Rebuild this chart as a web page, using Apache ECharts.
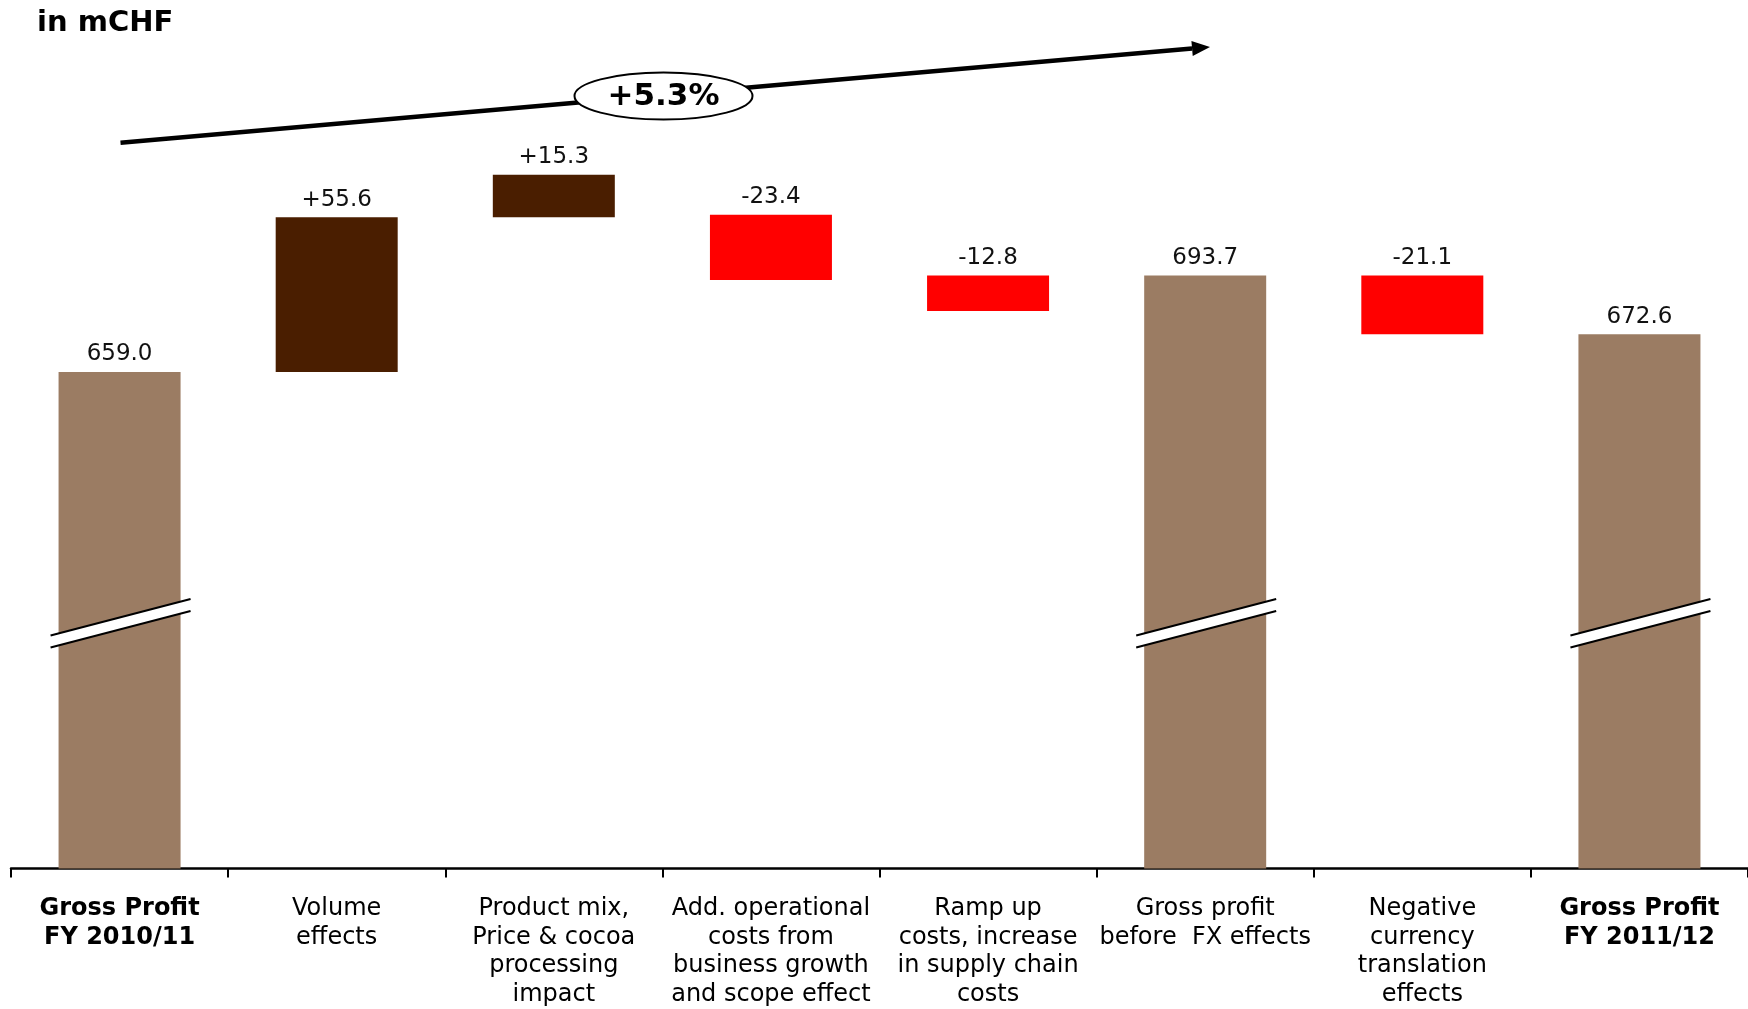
<!DOCTYPE html>
<html>
<head>
<meta charset="utf-8">
<script src="https://cdn.jsdelivr.net/npm/echarts@6/dist/echarts.min.js"></script>
<style>
html,body{margin:0;padding:0;background:#fff;}
#chart{width:1748px;height:1009px;}
</style>
</head>
<body>
<div id="chart"></div>
<script>
// ---- data ----
const categories = [
  'Gross Profit\nFY 2010/11',
  'Volume\neffects',
  'Product mix,\nPrice & cocoa\nprocessing\nimpact',
  'Add. operational\ncosts from\nbusiness growth\nand scope effect',
  'Ramp up\ncosts, increase\nin supply chain\ncosts',
  'Gross profit\nbefore  FX effects',
  'Negative\ncurrency\ntranslation\neffects',
  'Gross Profit\nFY 2011/12'
];
const totals     = [659.0, null, null, null, null, 693.7, null, 672.6];
const stepStart  = [null, 659.0, 714.6, 715.5, 693.7, null, 693.7, null];
const stepDelta  = [null, 55.6, 15.3, -23.4, -12.8, null, -21.1, null];
const boldCategories = [0, 7];
const growthLabel = '+5.3%';
const unitLabel = 'in mCHF';

// ---- style ----
const FONT = 'DejaVu Sans';
const C_TOTAL = '#9b7c63';
const C_POS = '#4a1e00';
const C_NEG = '#ff0000';
const BAR_W = 122;

const baseData = stepStart.map((s, i) => s == null ? '-' : Math.min(s, s + stepDelta[i]));
const deltaData = stepDelta.map(d => d == null ? '-' : Math.abs(d));
const totalData = totals.map(v => v == null ? '-' : v);

const chart = echarts.init(document.getElementById('chart'));
chart.setOption({
  animation: false,
  backgroundColor: '#fff',
  grid: { left: 11, right: 0, top: 37, bottom: 138 },
  xAxis: {
    type: 'category',
    data: categories,
    axisLine: { lineStyle: { color: '#000', width: 2.5 } },
    axisTick: { show: true, length: 9, lineStyle: { color: '#000', width: 2 } },
    axisLabel: {
      interval: 0,
      margin: 26,
      fontFamily: FONT,
      fontSize: 24,
      lineHeight: 28.6,
      color: '#000',
      formatter: function (value, idx) {
        if (boldCategories.indexOf(idx) >= 0) {
          return value.split('\n').map(l => '{b|' + l + '}').join('\n');
        }
        return value;
      },
      rich: { b: { fontFamily: FONT, fontSize: 24, lineHeight: 28.6, fontWeight: 'bold', color: '#000' } }
    }
  },
  yAxis: { type: 'value', min: 480.5, max: 779.4, show: false, splitLine: { show: false } },
  series: [
    {
      type: 'bar', name: 'total', data: totalData, barWidth: BAR_W, barGap: '-100%',
      itemStyle: { color: C_TOTAL },
      label: { show: true, position: 'top', distance: 6, fontFamily: FONT, fontSize: 23, color: '#111',
        formatter: p => Number(p.value).toFixed(1) }
    },
    {
      type: 'bar', name: 'base', stack: 'w', data: baseData, barWidth: BAR_W, barGap: '-100%',
      itemStyle: { color: 'rgba(0,0,0,0)' }, silent: true
    },
    {
      type: 'bar', name: 'delta', stack: 'w', data: deltaData, barWidth: BAR_W, barGap: '-100%',
      itemStyle: { color: p => (stepDelta[p.dataIndex] >= 0 ? C_POS : C_NEG) },
      label: { show: true, position: 'top', distance: 6, fontFamily: FONT, fontSize: 23, color: '#111',
        formatter: p => { const d = stepDelta[p.dataIndex]; return (d > 0 ? '+' : '') + d.toFixed(1); } }
    }
  ]
});

// ---- annotations ----
const g = [];
g.push({ type: 'text', left: 37, top: 9, style: { text: unitLabel, fontFamily: FONT, fontSize: 29, fontWeight: 'bold', fill: '#000' } });

// growth arrow
const x0 = 120.5, y0 = 142.7, tipX = 1210, tipY = 47;
const dx = tipX - x0, dy = tipY - y0, len = Math.sqrt(dx*dx + dy*dy);
const ux = dx/len, uy = dy/len, nx = -uy, ny = ux;
const headL = 18, headW = 7.5;
const bx = tipX - ux*headL, by = tipY - uy*headL;
g.push({ type: 'line', z: 10, shape: { x1: x0, y1: y0, x2: bx, y2: by }, style: { stroke: '#000', lineWidth: 4.5 } });
g.push({ type: 'polygon', z: 10, shape: { points: [[tipX, tipY], [bx + nx*headW, by + ny*headW], [bx - nx*headW, by - ny*headW]] }, style: { fill: '#000' } });
g.push({ type: 'ellipse', z: 11, shape: { cx: 663.5, cy: 96, rx: 89, ry: 23.5 }, style: { fill: '#fff', stroke: '#000', lineWidth: 2 } });
g.push({ type: 'text', z: 12, x: 663.5, y: 97, style: { text: growthLabel, fontFamily: FONT, fontSize: 31, fontWeight: 'bold', fill: '#000', textAlign: 'center', textVerticalAlign: 'middle' } });

// axis-break marks on total bars
totals.forEach((v, i) => {
  if (v == null) return;
  const cx = chart.convertToPixel({ xAxisIndex: 0, yAxisIndex: 0 }, [i, 600])[0];
  const cy = 623;
  const L = cx - 69, R = cx + 71;
  g.push({ type: 'polygon', z: 20, shape: { points: [[L, cy + 12.5], [R, cy - 24], [R, cy - 12], [L, cy + 24.5]] }, style: { fill: '#fff' } });
  g.push({ type: 'line', z: 21, shape: { x1: L, y1: cy + 12.5, x2: R, y2: cy - 24 }, style: { stroke: '#000', lineWidth: 2 } });
  g.push({ type: 'line', z: 21, shape: { x1: L, y1: cy + 24.5, x2: R, y2: cy - 12 }, style: { stroke: '#000', lineWidth: 2 } });
});
chart.setOption({ graphic: g });
</script>
</body>
</html>
